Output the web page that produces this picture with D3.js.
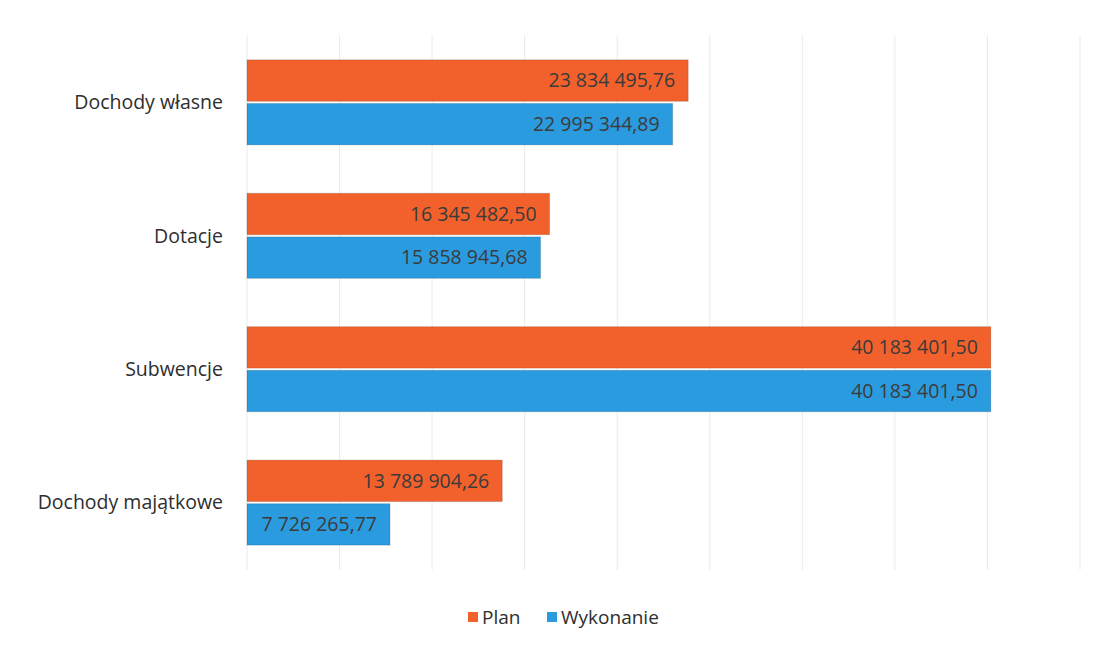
<!DOCTYPE html>
<html>
<head>
<meta charset="utf-8">
<script src="https://cdn.jsdelivr.net/npm/d3@7"></script>
<style>
  body { margin: 0; background: #fff; }
  text { font-family: "Open Sans", "Noto Sans", sans-serif; }
</style>
</head>
<body>
<div id="chart"></div>
<script>
// categories and series
const categories = ["Dochody własne", "Dotacje", "Subwencje", "Dochody majątkowe"];
const seriesNames = ["Plan", "Wykonanie"];
const planValues = [23834495.76, 16345482.50, 40183401.50, 13789904.26];
const wykonanieValues = [22995344.89, 15858945.68, 40183401.50, 7726265.77];
const xTicks = [0, 5e6, 10e6, 15e6, 20e6, 25e6, 30e6, 35e6, 40e6, 45e6];
const colors = ["#f2612c", "#2b9be0"];

const width = 1094, height = 649;
const margin = {top: 35, right: 14, bottom: 79, left: 247};

const svg = d3.select("#chart").append("svg")
    .attr("width", width)
    .attr("height", height);

const g = svg.append("g")
    .attr("transform", `translate(${margin.left},${margin.top})`);

const innerW = width - margin.left - margin.right;
const innerH = height - margin.top - margin.bottom;

// x scale
let x = d3.scaleLinear()
    .domain([0, 45e6])
    .range([0, innerW]);

let y = d3.scaleBand()
    .domain(categories)
    .range([0, innerH])
    .paddingInner(0.33)
    .paddingOuter(0.17);

let ySub = d3.scaleBand()
    .domain(seriesNames)
    .range([0, y.bandwidth()])
    .padding(0.05);

// gridlines
g.selectAll(".grid")
    .data(xTicks)
    .enter()
    .append("line")
    .attr("class", "grid")
    .attr("x1", d => x(d))
    .attr("x2", d => x(d))
    .attr("y1", 0)
    .attr("y2", innerH)
    .attr("stroke", "#e8ebef")
    .attr("stroke-width", 1);

// data table
let rows = categories.map((c, i) => ({
    category: c,
    values: [
        {series: "Plan", value: planValues[i], color: colors[0]},
        {series: "Wykonanie", value: wykonanieValues[i], color: colors[1]}
    ]
}));

let fmt = v => {
    let parts = v.toFixed(2).split(".");
    return parts[0].replace(/\B(?=(\d{3})+(?!\d))/g, " ") + "," + parts[1];
};

let groups = g.selectAll(".cat")
    .data(rows)
    .enter()
    .append("g")
    .attr("class", "cat")
    .attr("transform", d => `translate(0,${y(d.category)})`);

groups.selectAll("rect")
    .data(d => d.values)
    .enter()
    .append("rect")
    .attr("x", 0)
    .attr("y", d => ySub(d.series))
    .attr("width", d => x(d.value))
    .attr("height", ySub.bandwidth())
    .attr("fill", d => d.color)
    .attr("stroke", "rgba(0,0,0,0.15)")
    .attr("stroke-width", 1);

groups.selectAll(".lbl")
    .data(d => d.values)
    .enter()
    .append("text")
    .attr("class", "lbl")
    .attr("x", d => x(d.value) - 13)
    .attr("y", d => ySub(d.series) + ySub.bandwidth() / 2)
    .attr("dy", "0.35em")
    .attr("text-anchor", "end")
    .attr("font-size", 19.5)
    .attr("fill", "#3b3b3b")
    .text(d => fmt(d.value));

// category labels
g.selectAll(".catlbl")
    .data(categories)
    .enter()
    .append("text")
    .attr("class", "catlbl")
    .attr("x", -24)
    .attr("y", d => y(d) + y.bandwidth() / 2)
    .attr("dy", "0.35em")
    .attr("text-anchor", "end")
    .attr("font-size", 19.5)
    .attr("fill", "#2e2e2e")
    .text(d => d);

// legend
let legend = svg.append("g")
    .attr("transform", `translate(468,617)`);

let legendX = [0, 79];
seriesNames.forEach((s, i) => {
    legend.append("rect")
        .attr("x", legendX[i])
        .attr("y", -5)
        .attr("width", 10)
        .attr("height", 10)
        .attr("fill", colors[i]);
    legend.append("text")
        .attr("x", legendX[i] + 14)
        .attr("y", 0)
        .attr("dy", "0.35em")
        .attr("font-size", 19)
        .attr("fill", "#2e2e2e")
        .text(s);
});
</script>
</body>
</html>
